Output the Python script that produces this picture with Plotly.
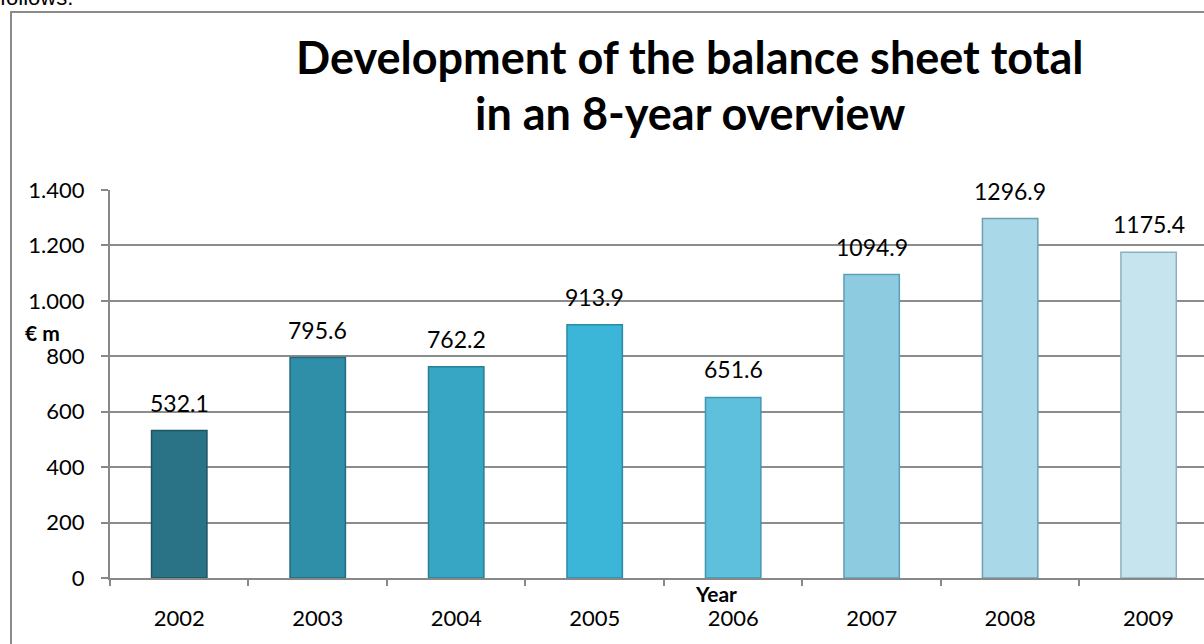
import plotly.graph_objects as go

years = ["2002", "2003", "2004", "2005", "2006", "2007", "2008", "2009"]
values = [532.1, 795.6, 762.2, 913.9, 651.6, 1094.9, 1296.9, 1175.4]
bar_colors = ["#2a7286", "#2f8ea8", "#36a6c4", "#3bb6d9", "#5ec0dc",
              "#8ccbe0", "#a9d8e8", "#c6e4ee"]
edge_colors = ["#1d5463", "#226b80", "#287e96", "#2b8aa6", "#3f97b0",
               "#5f9fb5", "#6f9fb0", "#8fb0bb"]
y_ticks = [0, 200, 400, 600, 800, 1000, 1200, 1400]
title_lines = ["Development of the balance sheet total", "in an 8-year overview"]

W, H = 1204, 644
ML, MR, MT, MB = 110, 0, 190, 66
PW, PH = W - ML - MR, H - MT - MB

def px(x):
    return (x - ML) / PW

def py(y):
    return (H - MB - y) / PH

FONT = "Lato, Calibri, Carlito, sans-serif"

fig = go.Figure()
fig.add_trace(go.Bar(
    x=years, y=values,
    marker=dict(color=bar_colors, line=dict(color=edge_colors, width=1.5)),
    width=0.4,
    hoverinfo="x+y",
))

# value labels above the bars
for i, v in enumerate(values):
    fig.add_annotation(
        x=i, y=v, xref="x", yref="y", text=f"{v:.1f}",
        showarrow=False, yanchor="bottom", xanchor="center", yshift=12,
        font=dict(family=FONT, size=23, color="#000000"),
    )

fig.update_layout(
    width=W, height=H,
    margin=dict(l=ML, r=MR, t=MT, b=MB),
    paper_bgcolor="white", plot_bgcolor="white",
    separators=",.",
    showlegend=False,
    font=dict(family=FONT, size=22, color="#000000"),
    xaxis=dict(
        type="category",
        range=[-0.5, 7.4],
        showline=True, linecolor="#888888", linewidth=2,
        ticks="outside", tickson="boundaries", ticklen=6, tickcolor="#888888", tickwidth=2,
        showgrid=False,
        tickfont=dict(family=FONT, size=22),
        ticklabelstandoff=20,
    ),
    yaxis=dict(
        range=[0, 1400],
        tickvals=y_ticks,
        tickformat=",d",
        showline=True, linecolor="#888888", linewidth=2,
        ticks="outside", ticklen=7, tickcolor="#888888", tickwidth=2,
        showgrid=True, gridcolor="#8c8c8c", gridwidth=2,
        zeroline=False,
        tickfont=dict(family=FONT, size=22),
        ticklabelstandoff=12,
    ),
)

# Title, two lines
for line, ypix in zip(title_lines, [57, 113]):
    fig.add_annotation(
        text=f"<b>{line}</b>",
        xref="paper", yref="paper", x=px(690), y=py(ypix),
        xanchor="center", yanchor="middle", showarrow=False,
        font=dict(family=FONT, size=45, color="#000000"),
    )
# axis titles
fig.add_annotation(
    text="<b>€ m</b>", xref="paper", yref="paper", x=px(42), y=py(332),
    xanchor="center", yanchor="middle", showarrow=False,
    font=dict(family=FONT, size=21),
)
fig.add_annotation(
    text="<b>Year</b>", xref="paper", yref="paper", x=px(716), y=py(593),
    xanchor="center", yanchor="middle", showarrow=False,
    font=dict(family=FONT, size=21),
)
# cut-off preceding text
fig.add_annotation(
    text="follows.", xref="paper", yref="paper", x=px(-2), y=py(12),
    xanchor="left", yanchor="bottom", showarrow=False,
    font=dict(family="Liberation Sans, Arial, sans-serif", size=22),
)
# outer frame
fig.add_shape(
    type="rect", xref="paper", yref="paper",
    x0=px(11), x1=px(1300), y0=py(700), y1=py(12),
    line=dict(color="#8a8a8a", width=2), fillcolor="rgba(0,0,0,0)", layer="below",
)

fig.write_html("out.html", config={"displayModeBar": False},
               post_script="document.body.style.margin='0';")
